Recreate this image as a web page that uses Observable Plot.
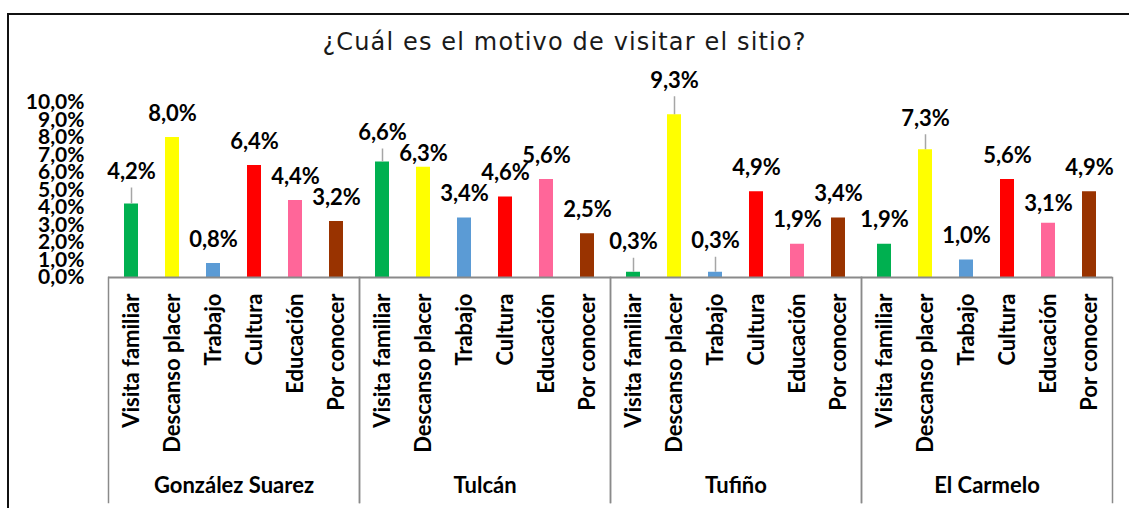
<!DOCTYPE html>
<html><head><meta charset="utf-8">
<script src="https://cdn.jsdelivr.net/npm/d3@7"></script>
<script src="https://cdn.jsdelivr.net/npm/@observablehq/plot@0.6"></script>
<style>
html,body{margin:0;padding:0;background:#fff;overflow:hidden;}
#wrap{position:relative;width:1129px;height:508px;overflow:hidden;background:#fff;}
#border{position:absolute;left:7px;top:13px;width:1200px;height:600px;border-left:2px solid #111;border-top:2px solid #111;box-sizing:border-box;}
#title{position:absolute;left:0;width:1129px;top:30px;line-height:1;text-align:center;font-family:"DejaVu Sans";font-size:24px;letter-spacing:1.15px;color:#1a1a1a;}
#chart{position:absolute;left:0;top:0;}
</style></head><body>
<div id="wrap"><div id="border"></div><div id="chart"></div><div id="title">¿Cuál es el motivo de visitar el sitio?</div></div>
<script>
const groups = ["González Suarez", "Tulcán", "Tufiño", "El Carmelo"];
const categories = ["Visita familiar", "Descanso placer", "Trabajo", "Cultura", "Educación", "Por conocer"];
const colors = ["#00B050", "#FFFF00", "#5B9BD5", "#FF0000", "#FF6699", "#993300"];
const gonzalezSuarez = [4.2, 8.0, 0.8, 6.4, 4.4, 3.2];
const tulcan = [6.6, 6.3, 3.4, 4.6, 5.6, 2.5];
const tufino = [0.3, 9.3, 0.3, 4.9, 1.9, 3.4];
const elCarmelo = [1.9, 7.3, 1.0, 5.6, 3.1, 4.9];
const yTicks = [0, 1, 2, 3, 4, 5, 6, 7, 8, 9, 10];

// Label layout adjustments (extra lift in px over the default placement; leader = callout line)
const labelLayout = [
  {group: "González Suarez", cat: "Visita familiar", lift: 8, leader: true},
  {group: "Tulcán", cat: "Visita familiar", lift: 5, leader: true},
  {group: "Tulcán", cat: "Descanso placer", lift: -11, leader: false},
  {group: "Tufiño", cat: "Visita familiar", lift: 6, leader: true},
  {group: "Tufiño", cat: "Descanso placer", lift: 10, leader: true},
  {group: "Tufiño", cat: "Trabajo", lift: 7, leader: true},
  {group: "El Carmelo", cat: "Descanso placer", lift: 7, leader: true},
  {group: "El Carmelo", cat: "Educación", lift: -5, leader: false}
];

const series = [gonzalezSuarez, tulcan, tufino, elCarmelo];
const rows = groups.flatMap((g, gi) => categories.map((c, ci) => ({group: g, cat: c, value: series[gi][ci]})));
const fmt = v => v.toFixed(1).replace(".", ",") + "%";
const key = d => d.group + "|" + d.cat;
const layoutMap = new Map(labelLayout.map(n => [key(n), n]));
const plain = rows.filter(d => !layoutMap.has(key(d)));
const adjusted = rows.filter(d => layoutMap.has(key(d)));

const FONT = "Lato";
const BASE_GAP = 24;
const labelStyle = {fontSize: 22, fontWeight: "bold", fill: "#000"};

const chart = Plot.plot({
  width: 1129, height: 508,
  marginLeft: 107, marginRight: 16, marginTop: 102, marginBottom: 231,
  style: {fontFamily: FONT, background: "transparent", overflow: "visible", color: "#000"},
  fx: {domain: groups, padding: 0, axis: null, label: null},
  x: {domain: categories, paddingInner: 0.666, paddingOuter: 0.333, axis: null, label: null},
  y: {domain: [0, 10], axis: null, label: null},
  color: {domain: categories, range: colors},
  marks: [
    Plot.frame({anchor: "left", stroke: "#8a8a8a", strokeWidth: 1.5, insetTop: 175, insetBottom: -225}),
    Plot.frame({anchor: "right", stroke: "#8a8a8a", strokeWidth: 1.5, insetTop: 175, insetBottom: -225}),
    Plot.barY(rows, {fx: "group", x: "cat", y: "value", fill: "cat"}),
    Plot.ruleY([0], {stroke: "#8a8a8a", strokeWidth: 2}),
    Plot.axisY({ticks: yTicks, tickFormat: fmt, tickSize: 0, tickPadding: 24, label: null, fontSize: 21, fontWeight: "bold", fill: "#000"}),
    Plot.axisX({anchor: "bottom", tickRotate: -90, tickSize: 0, tickPadding: 16, label: null, fontSize: 22, fontWeight: "bold", fill: "#000"}),
    Plot.text(groups, {fx: d => d, text: d => d, frameAnchor: "bottom", dy: 215, fontSize: 22, fontWeight: "bold", fill: "#000"}),
    Plot.text(plain, {fx: "group", x: "cat", y: "value", text: d => fmt(d.value), dy: -BASE_GAP, ...labelStyle}),
    ...adjusted.map(d => {
      const n = layoutMap.get(key(d));
      return Plot.text([d], {fx: "group", x: "cat", y: "value", text: r => fmt(r.value), dy: -(BASE_GAP + n.lift), ...labelStyle});
    }),
    ...adjusted.filter(d => layoutMap.get(key(d)).leader).map(d => {
      const n = layoutMap.get(key(d));
      return Plot.ruleX([d], {fx: "group", x: "cat", y1: "value", y2: "value", insetTop: -(BASE_GAP + n.lift - 16), insetBottom: 0, stroke: "#a6a6a6", strokeWidth: 1.5});
    })
  ]
});
document.getElementById("chart").appendChild(chart);
</script>
</body></html>
